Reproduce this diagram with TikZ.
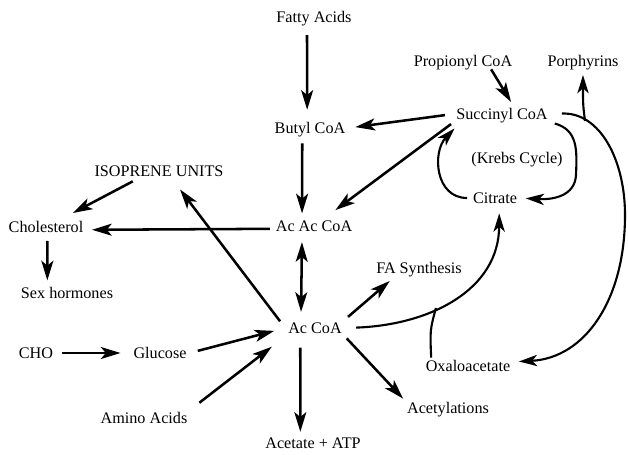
\documentclass[tikz,border=0pt]{standalone}
\usepackage{fontspec}
\setmainfont{Liberation Serif}
\usetikzlibrary{arrows.meta}

\begin{document}
\begin{tikzpicture}[
  x=0.025cm, y=-0.025cm,
  lbl/.style={inner sep=2pt, text height=7.5pt, text depth=0pt, font=\fontsize{11.5}{13}\selectfont},
  arr/.style={-{Stealth[length=14pt,width=8.5pt,inset=3.5pt]}, line width=1.8pt},
  dbl/.style={{Stealth[length=14pt,width=8.5pt,inset=3.5pt]}-{Stealth[length=14pt,width=8.5pt,inset=3.5pt]}, line width=1.8pt},
  curvearr/.style={-{Stealth[length=13pt,width=8pt,inset=3.5pt]}, line width=1.5pt},
  link/.style={line width=1.5pt}
]
\useasboundingbox (0,0) rectangle (628,454);

\node[lbl] (fatty) at (314,17) {Fatty Acids};
\node[lbl] (butyl) at (310,128) {Butyl CoA};
\node[lbl] (propionyl) at (463,61) {Propionyl CoA};
\node[lbl] (porph) at (583,61) {Porphyrins};
\node[lbl] (succ) at (502,114) {Succinyl CoA};
\node[lbl] (krebs) at (517,158) {(Krebs Cycle)};
\node[lbl] (citrate) at (495,198) {Citrate};
\node[lbl] (isoprene) at (159,171) {ISOPRENE UNITS};
\node[lbl] (chol) at (46,227) {Cholesterol};
\node[lbl] (acac) at (314,226) {Ac Ac CoA};
\node[lbl] (sex) at (67,293) {Sex hormones};
\node[lbl] (fasyn) at (419,268) {FA Synthesis};
\node[lbl] (accoa) at (315,328) {Ac CoA};
\node[lbl] (cho) at (36,353) {CHO};
\node[lbl] (glucose) at (160,353) {Glucose};
\node[lbl] (oxalo) at (468,366) {Oxaloacetate};
\node[lbl] (amino) at (144,418) {Amino Acids};
\node[lbl] (acetyl) at (448,408) {Acetylations};
\node[lbl] (acetate) at (313,443) {Acetate + ATP};

% straight arrows
\draw[arr, shorten <=7pt, shorten >=7pt] ([xshift=-5pt]fatty.south) -- ([xshift=-2pt]butyl.north);
\draw[arr, shorten <=5pt, shorten >=3pt] ([xshift=-5.5pt]butyl.south) -- ([xshift=-8.5pt]acac.north);
\draw[arr, shorten <=6pt, shorten >=5pt] (succ.west) -- (butyl.east);
\draw[arr, shorten <=2pt, shorten >=9pt] (succ.south west) -- ([xshift=8pt]acac.north);
\draw[arr, shorten >=3pt] ([xshift=20pt]propionyl.south) -- ([xshift=8pt]succ.north);
\draw[dbl, shorten <=5.5pt, shorten >=5.5pt] ([xshift=-8.5pt]acac.south) -- ([xshift=-10pt]accoa.north);
\draw[arr, shorten <=2pt, shorten >=4pt] ([yshift=-2pt]acac.west) -- ([yshift=-2pt]chol.east);
\draw[arr, shorten <=6pt, shorten >=9pt] (accoa.west) -- ([xshift=9.5pt]isoprene.south);
\draw[arr, shorten <=3pt] ([xshift=-16pt]isoprene.south) -- ([xshift=19pt,yshift=4pt]chol.north);
\draw[arr, shorten <=4pt, shorten >=3pt] ([xshift=1pt]chol.south) -- ([xshift=-14pt]sex.north);
\draw[arr, shorten <=4pt, shorten >=7pt] (cho.east) -- (glucose.west);
\draw[arr, shorten <=6pt, shorten >=8pt] (glucose.east) -- (accoa.west);
\draw[arr, shorten <=8pt, shorten >=12pt] (amino.north east) -- (accoa.south west);
\draw[arr, shorten <=8pt, shorten >=2pt] ([xshift=-10.5pt]accoa.south) -- ([xshift=-9pt]acetate.north);
\draw[arr, shorten <=2pt, shorten >=1pt] (accoa.south east) -- (acetyl.north west);
\draw[arr, shorten <=3pt, shorten >=5pt] (accoa.north east) -- ([xshift=-17pt]fasyn.south);

% Krebs cycle
\draw[curvearr, shorten <=2pt, shorten >=6pt] (citrate.west) .. controls (435,198) and (432,152) .. ([xshift=5pt]succ.south west);
\draw[curvearr, shorten <=3pt, shorten >=4pt] (succ.south east) .. controls (578,130) and (577,150) .. (576,175)
  .. controls (575,195) and (555,200) .. (citrate.east);

% curved routes
\draw[curvearr, shorten <=8pt, shorten >=4pt] (succ.east) .. controls (600,112) and (625,160) .. (625,215)
  .. controls (625,300) and (585,358) .. ([yshift=3pt]oxalo.east);
\coordinate (junc) at (585,121);
\draw[curvearr, shorten >=4pt] (junc) .. controls (583,105) .. (porph.south);
\draw[curvearr, shorten <=8pt, shorten >=5pt] (accoa.east) .. controls (430,325) and (499,290) .. coordinate[pos=0.4] (join) ([xshift=3pt]citrate.south);
\draw[link] ([xshift=6pt]oxalo.north west) .. controls (430,330) .. (join);
\end{tikzpicture}
\end{document}
